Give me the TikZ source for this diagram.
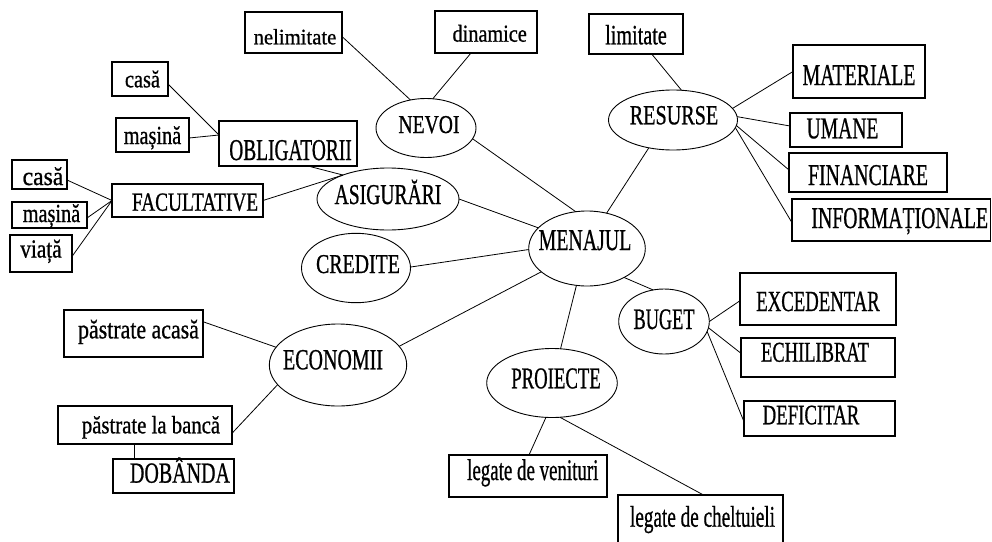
\documentclass[tikz,border=0pt]{standalone}
\usepackage{fontspec}
\setmainfont{Liberation Serif}
\newfontfamily\reffont{Liberation Serif}[FakeBold=0.9]
\usepackage{graphicx}
\usetikzlibrary{shapes.geometric}
% \tx{dx}{raise}{size}{hscale}{text}
\newcommand{\tx}[5]{\hspace*{#1}\makebox[0pt]{\raisebox{#2}[0pt][0pt]{\reffont\fontsize{#3}{#3}\selectfont\scalebox{#4}[1]{#5}}}\hspace*{-#1}}
\tikzset{
  bx/.style={draw, rectangle, line width=1.2pt, inner sep=0pt, outer sep=0pt},
  el/.style={draw, ellipse, line width=0.9pt, inner sep=0pt, outer sep=0pt},
  ln/.style={line width=0.8pt}
}
\begin{document}
\begin{tikzpicture}[x=1pt,y=-1pt]
\fill[white] (0,0) rectangle (992,541);
\clip (0,0) rectangle (992,541);
% boxes
\node[bx, minimum width=97pt, minimum height=41pt] (nel) at (293.5,32.5) {\tx{1.5pt}{-11.8pt}{22}{0.94}{nelimitate}};
\node[bx, minimum width=102pt, minimum height=42pt] (din) at (486,32) {\tx{3.7pt}{-9.7pt}{24.4}{0.83}{dinamice}};
\node[bx, minimum width=94pt, minimum height=40pt] (lim) at (636,34) {\tx{0pt}{-10.3pt}{28}{0.72}{limitate}};
\node[bx, minimum width=132pt, minimum height=53pt] (mat) at (859,71.5) {\tx{0pt}{-13.5pt}{30.2}{0.66}{MATERIALE}};
\node[bx, minimum width=112pt, minimum height=34pt] (uma) at (846,130) {\tx{-3.5pt}{-8.3pt}{30.2}{0.648}{UMANE}};
\node[bx, minimum width=158pt, minimum height=39pt] (fin) at (868,172.5) {\tx{0pt}{-12.5pt}{30.2}{0.656}{FINANCIARE}};
\node[bx, minimum width=198.5pt, minimum height=42pt] (inf) at (891.25,220) {\tx{8.5pt}{-8pt}{30.2}{0.654}{INFORMAȚIONALE}};
\node[bx, minimum width=138pt, minimum height=45pt] (obl) at (288,143.5) {\tx{2.5pt}{-16.5pt}{30.2}{0.642}{OBLIGATORII}};
\node[bx, minimum width=151pt, minimum height=33pt] (fac) at (187.5,200.5) {\tx{7.5pt}{-10.2pt}{26.1}{0.74}{FACULTATIVE}};
\node[bx, minimum width=56pt, minimum height=34pt] (casT) at (140,79) {\tx{2.5pt}{-8.3pt}{24.5}{0.83}{casă}};
\node[bx, minimum width=73pt, minimum height=34pt] (masT) at (152.5,135) {\tx{0pt}{-9pt}{26}{0.78}{mașină}};
\node[bx, minimum width=55pt, minimum height=29pt] (casL) at (39.5,174.5) {\tx{3.5pt}{-10.5pt}{26}{0.91}{casă}};
\node[bx, minimum width=75pt, minimum height=26pt] (masL) at (49.5,215) {\tx{2pt}{-7pt}{26}{0.78}{mașină}};
\node[bx, minimum width=62pt, minimum height=37pt] (via) at (41,253.5) {\tx{0pt}{-4pt}{26}{0.82}{viață}};
\node[bx, minimum width=139pt, minimum height=47pt] (pa) at (133.5,333.5) {\tx{5pt}{-4.8pt}{27}{0.81}{păstrate acasă}};
\node[bx, minimum width=174pt, minimum height=38pt] (pb) at (145,425) {\tx{6pt}{-8.3pt}{25}{0.83}{păstrate la bancă}};
\node[bx, minimum width=121pt, minimum height=34pt] (dob) at (173.5,476) {\tx{6.5pt}{-6.7pt}{29.2}{0.685}{DOBÂNDA}};
\node[bx, minimum width=156pt, minimum height=52pt] (exc) at (818,299) {\tx{0pt}{-12pt}{29.2}{0.642}{EXCEDENTAR}};
\node[bx, minimum width=154pt, minimum height=39pt] (ech) at (818,357.5) {\tx{-3pt}{-4.2pt}{28.7}{0.645}{ECHILIBRAT}};
\node[bx, minimum width=151pt, minimum height=35pt] (def) at (819.5,418.5) {\tx{-8.5pt}{-5.8pt}{28.2}{0.667}{DEFICITAR}};
\node[bx, minimum width=158pt, minimum height=42pt] (lv) at (528,476) {\tx{4.8pt}{-4pt}{30}{0.63}{legate de venituri}};
\node[bx, minimum width=165pt, minimum height=50pt] (lc) at (700.5,520) {\tx{2pt}{-6.7pt}{30}{0.64}{legate de cheltuieli}};
% ellipses
\node[el, minimum width=100pt, minimum height=59pt] (nev) at (426,128) {\tx{3pt}{-5pt}{25.7}{0.763}{NEVOI}};
\node[el, minimum width=116.6pt, minimum height=75pt] (men) at (587,248.5) {\tx{-2pt}{-1.5pt}{30.2}{0.658}{MENAJUL}};
\node[el, minimum width=142pt, minimum height=62pt] (asi) at (388,199) {\tx{0pt}{-5pt}{28.7}{0.683}{ASIGURĂRI}};
\node[el, minimum width=109pt, minimum height=69.4pt] (cre) at (356,268) {\tx{2pt}{-5pt}{27.2}{0.73}{CREDITE}};
\node[el, minimum width=129pt, minimum height=60pt] (res) at (673,120) {\tx{1pt}{-4.3pt}{27.6}{0.73}{RESURSE}};
\node[el, minimum width=137.4pt, minimum height=82pt] (eco) at (338,365) {\tx{-5pt}{-4.3pt}{29.2}{0.685}{ECONOMII}};
\node[el, minimum width=90.6pt, minimum height=65pt] (bug) at (664,321.5) {\tx{0pt}{-7.5pt}{29.7}{0.616}{BUGET}};
\node[el, minimum width=130.6pt, minimum height=69pt] (pro) at (552,383) {\tx{4pt}{-5.3pt}{30.2}{0.62}{PROIECTE}};
% connectors
\draw[ln] ([yshift=-4pt]nel.east) -- (nev.119);
\draw[ln] ([xshift=-15pt]din.south) -- (nev.77);
\draw[ln] (nev.-13) -- (men.107);
\draw[ln] (asi.0) -- (men.157);
\draw[ln] (cre.1) -- (men.181);
\draw[ln] ([xshift=20pt]obl.south) -- (asi.152);
\draw[ln] (fac.east) -- (asi.152);
\draw[ln] ([yshift=-5pt]casT.east) -- ([yshift=8.5pt]obl.west);
\draw[ln] ([yshift=-3pt]masT.east) -- ([yshift=8.5pt]obl.west);
\draw[ln] ([yshift=-5.5pt]casL.east) -- (fac.west);
\draw[ln] ([yshift=-3pt]masL.east) -- (fac.west);
\draw[ln] ([yshift=-3pt]via.east) -- (fac.west);
\draw[ln] ([xshift=15.7pt]lim.south) -- (res.74);
\draw[ln] (res.11) -- (mat.west);
\draw[ln] (res.3) -- ([yshift=4pt]uma.west);
\draw[ln] (res.-5) -- ([yshift=2.5pt]fin.west);
\draw[ln] (res.-7) -- ([yshift=-2.7pt]inf.west);
\draw[ln] (res.229) -- (men.61);
\draw[ln] (men.-38) -- (bug.109);
\draw[ln] (men.-106) -- (pro.76);
\draw[ln] (men.207) -- (eco.17);
\draw[ln] ([yshift=11.8pt]pa.east) -- (eco.164);
\draw[ln] ([yshift=-8.3pt]pb.east) -- (eco.198);
\draw[ln] ([xshift=-10.7pt]pb.south) -- ([xshift=-39.2pt]dob.north);
\draw[ln] (bug.0) -- ([yshift=-1.7pt]exc.west);
\draw[ln] (bug.-8) -- ([yshift=4.2pt]ech.west);
\draw[ln] (bug.-13) -- ([yshift=-3.2pt]def.west);
\draw[ln] (pro.260) -- ([xshift=1pt]lv.north);
\draw[ln] (pro.283) -- ([xshift=3pt]lc.north);
\end{tikzpicture}
\end{document}
